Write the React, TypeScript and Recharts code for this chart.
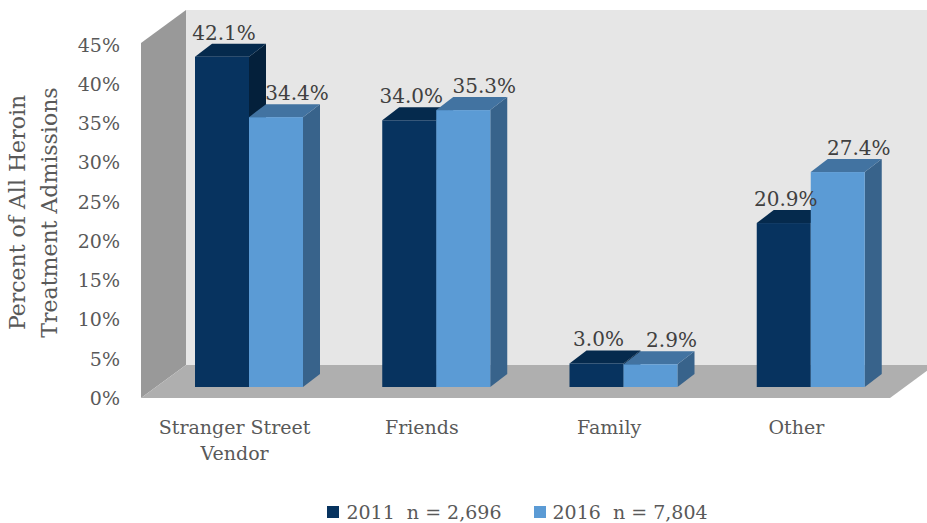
import React from 'react';
import { BarChart, Bar, XAxis, YAxis, Legend, LabelList, ReferenceArea } from 'recharts';

const categories = ['Stranger Street Vendor', 'Friends', 'Family', 'Other'];
const values2011 = [42.1, 34.0, 3.0, 20.9];
const values2016 = [34.4, 35.3, 2.9, 27.4];
const yTicks = [0, 5, 10, 15, 20, 25, 30, 35, 40, 45];
const seriesNames = ['2011  n = 2,696', '2016  n = 7,804'];

const data = categories.map((name, i) => ({
  name,
  y2011: values2011[i],
  y2016: values2016[i],
}));

// fake 3D projection
const WALL = { x: 45, y: -33 };
const FRONT = { x: 14, y: -11 };
const DEPTH = { x: 17, y: -13 };

const FONT = '"DejaVu Serif", serif';
const TEXT = '#595959';

const COLORS_2011 = { front: '#07335f', top: '#052a4d', side: '#04203b' };
const COLORS_2016 = { front: '#5b9bd5', top: '#4273a1', side: '#38638b' };

function Bar3D(props: any) {
  const { x, y, width, height, colors } = props;
  if (width == null || height == null) return null;
  const fx = x + FRONT.x;
  const fy = y + FRONT.y;
  const pts = (arr: number[][]) => arr.map((p) => p.join(',')).join(' ');
  return (
    <g>
      <polygon
        points={pts([
          [fx + width, fy],
          [fx + width + DEPTH.x, fy + DEPTH.y],
          [fx + width + DEPTH.x, fy + height + DEPTH.y],
          [fx + width, fy + height],
        ])}
        fill={colors.side}
      />
      <polygon
        points={pts([
          [fx, fy],
          [fx + width, fy],
          [fx + width + DEPTH.x, fy + DEPTH.y],
          [fx + DEPTH.x, fy + DEPTH.y],
        ])}
        fill={colors.top}
      />
      <rect x={fx} y={fy} width={width} height={height} fill={colors.front} />
    </g>
  );
}

function Walls(props: any) {
  const { x, y, width, height } = props;
  const top = y - 2;
  const bottom = y + height;
  const pts = (arr: number[][]) => arr.map((p) => p.join(',')).join(' ');
  return (
    <g>
      <rect x={x + WALL.x} y={top + WALL.y} width={width + 10} height={bottom - top} fill="#e6e6e6" />
      <polygon
        points={pts([
          [x, bottom],
          [x, top],
          [x + WALL.x, top + WALL.y],
          [x + WALL.x, bottom + WALL.y],
        ])}
        fill="#999999"
      />
      <polygon
        points={pts([
          [x, bottom],
          [x + width, bottom],
          [x + width + WALL.x, bottom + WALL.y],
          [x + WALL.x, bottom + WALL.y],
        ])}
        fill="#afafaf"
      />
    </g>
  );
}

const makeValueLabel = (shift: number) => (props: any) => {
  const { x, y, width, value } = props;
  return (
    <text
      x={Number(x) + Number(width) / 2 + FRONT.x + shift}
      y={Number(y) + FRONT.y - 24}
      textAnchor="middle"
      dominantBaseline="central"
      fontFamily={FONT}
      fontSize={20}
      fill="#404040"
    >
      {Number(value).toFixed(1)}%
    </text>
  );
};

function CategoryTick(props: any) {
  const { x, y, payload } = props;
  const words = String(payload.value).split(' ');
  const lines: string[] = [];
  let cur = '';
  words.forEach((w) => {
    if (cur && (cur + ' ' + w).length > 16) {
      lines.push(cur);
      cur = w;
    } else {
      cur = cur ? cur + ' ' + w : w;
    }
  });
  if (cur) lines.push(cur);
  return (
    <text x={x} y={y + 36} textAnchor="middle" fontFamily={FONT} fontSize={19} fill={TEXT}>
      {lines.map((l, i) => (
        <tspan key={i} x={x} dy={i === 0 ? 0 : 26}>
          {l}
        </tspan>
      ))}
    </text>
  );
}

function AxisTitle(props: any) {
  const vb = props.viewBox || { x: 0, y: 45, width: 141, height: 353 };
  const cy = vb.y + vb.height / 2 - 9;
  const lines = ['Percent of All Heroin', 'Treatment Admissions'];
  const xs = [17, 49];
  return (
    <g>
      {lines.map((l, i) => (
        <text
          key={i}
          x={xs[i]}
          y={cy}
          transform={`rotate(-90, ${xs[i]}, ${cy})`}
          textAnchor="middle"
          dominantBaseline="central"
          fontFamily={FONT}
          fontSize={22}
          fill={TEXT}
        >
          {l}
        </text>
      ))}
    </g>
  );
}

function LegendContent() {
  const cols = [COLORS_2011.front, COLORS_2016.front];
  return (
    <div
      style={{
        width: 927,
        height: 40,
        boxSizing: 'border-box',
        paddingTop: 18,
        paddingLeft: 108,
        display: 'flex',
        justifyContent: 'center',
        alignItems: 'flex-start',
        fontFamily: FONT,
        fontSize: 19,
        color: TEXT,
      }}
    >
      {seriesNames.map((s, i) => (
        <div
          key={s}
          style={{ display: 'flex', alignItems: 'center', height: 22, marginLeft: i === 0 ? 0 : 32 }}
        >
          <span style={{ width: 12, height: 12, background: cols[i], marginRight: 7, display: 'inline-block' }} />
          <span style={{ whiteSpace: 'pre' }}>{s}</span>
        </div>
      ))}
    </div>
  );
}

export default function App() {
  return (
    <div style={{ position: 'absolute', left: 0, top: 0, width: 927, height: 523, background: '#fff' }}>
      <BarChart
        width={927}
        height={523}
        data={data}
        margin={{ top: 45, right: 37, left: 0, bottom: 0 }}
        barCategoryGap={40}
        barGap={0}
      >
        <ReferenceArea y1={0} y2={45} shape={<Walls />} fillOpacity={1} zIndex={-50} ifOverflow="visible" />
        <XAxis
          dataKey="name"
          axisLine={false}
          tickLine={false}
          tickSize={0}
          tickMargin={0}
          height={85}
          interval={0}
          tick={<CategoryTick />}
        />
        <YAxis
          domain={[0, 45]}
          ticks={yTicks}
          width={141}
          axisLine={false}
          tickLine={false}
          tickSize={0}
          tickMargin={21}
          tickFormatter={(v) => `${v}%`}
          tick={{ fontFamily: FONT, fontSize: 19, fill: TEXT }}
          label={<AxisTitle />}
        />
        <Legend
          verticalAlign="bottom"
          height={40}
          content={<LegendContent />}
          wrapperStyle={{ left: 0, width: 927, bottom: 0 }}
        />
        <Bar
          dataKey="y2011"
          name={seriesNames[0]}
          isAnimationActive={false}
          shape={(p: any) => <Bar3D {...p} colors={COLORS_2011} />}
        >
          <LabelList dataKey="y2011" content={makeValueLabel(2)} />
        </Bar>
        <Bar
          dataKey="y2016"
          name={seriesNames[1]}
          isAnimationActive={false}
          shape={(p: any) => <Bar3D {...p} colors={COLORS_2016} />}
        >
          <LabelList dataKey="y2016" content={makeValueLabel(21)} />
        </Bar>
      </BarChart>
    </div>
  );
}
